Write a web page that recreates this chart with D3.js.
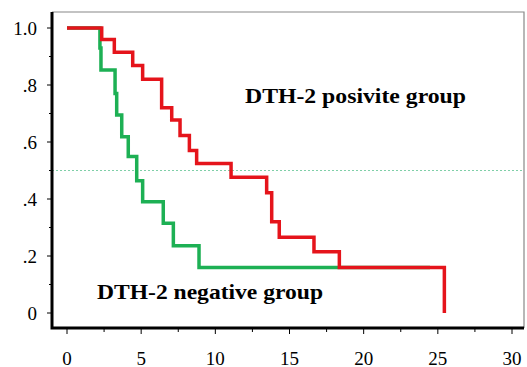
<!DOCTYPE html>
<html>
<head>
<meta charset="utf-8">
<script src="https://cdn.jsdelivr.net/npm/d3@7"></script>
<style>
  body { margin: 0; background: #fff; }
</style>
</head>
<body>
<div id="chart"></div>
<script>
// survival steps: [time, survival after the drop]
const positiveTimes = [0, 2.34, 3.19, 4.43, 5.1, 6.38, 7.06, 7.62, 8.25, 8.74, 11.06, 13.46, 13.8, 14.31, 16.65, 18.36, 25.44];
const positiveValues = [1, 0.96, 0.915, 0.868, 0.82, 0.72, 0.677, 0.623, 0.57, 0.525, 0.476, 0.422, 0.32, 0.266, 0.215, 0.16, 0];
const negativeTimes = [0, 2.22, 2.29, 3.24, 3.35, 3.69, 4.13, 4.7, 5.1, 6.49, 7.17, 8.9];
const negativeValues = [1, 0.93, 0.853, 0.77, 0.695, 0.618, 0.549, 0.464, 0.39, 0.315, 0.236, 0.16];
const negativeEnd = 24.47;
const xTicks = [0, 5, 10, 15, 20, 25, 30];
const yTicks = [0, 0.2, 0.4, 0.6, 0.8, 1.0];
const yTickLabels = ["0", ".2", ".4", ".6", ".8", "1.0"];
const medianLine = 0.5;

const serif = "'Liberation Serif', 'Times New Roman', Times, serif";
const width = 527, height = 367;
const svg = d3.select("#chart").append("svg")
  .attr("width", width).attr("height", height);

const x = d3.scaleLinear().domain([0, 30]).range([67, 512]);
const y = d3.scaleLinear().domain([0, 1]).range([313, 28]);

const frameLeft = 52, frameTop = 12, frameRight = 524, frameBottom = 328;

// thin grey top + right border
svg.append("path")
  .attr("d", `M${frameLeft},${frameTop}H${frameRight}V${frameBottom}`)
  .attr("fill", "none")
  .attr("stroke", "#888")
  .attr("stroke-width", 1.2);

// dotted 50% line
svg.append("line")
  .attr("x1", frameLeft).attr("x2", frameRight)
  .attr("y1", y(medianLine)).attr("y2", y(medianLine))
  .attr("stroke", "#7fcfa8")
  .attr("stroke-width", 1)
  .attr("stroke-dasharray", "2,2");

// x ticks (major + minor)
const xMinor = d3.range(0, 30.01, 2.5);
svg.append("g").selectAll("line").data(xMinor).enter().append("line")
  .attr("x1", d => x(d)).attr("x2", d => x(d))
  .attr("y1", frameBottom)
  .attr("y2", d => frameBottom + (d % 5 === 0 ? 6 : 4))
  .attr("stroke", "#000").attr("stroke-width", 1);
svg.append("g").selectAll("text").data(xTicks).enter().append("text")
  .attr("x", d => x(d)).attr("y", 358)
  .attr("text-anchor", "middle")
  .attr("dominant-baseline", "central")
  .attr("font-family", serif)
  .attr("font-size", 19)
  .text(d => d);

// y ticks
const yMinor = d3.range(0, 1.01, 0.1);
svg.append("g").selectAll("line").data(yMinor).enter().append("line")
  .attr("y1", d => y(d)).attr("y2", d => y(d))
  .attr("x1", frameLeft)
  .attr("x2", (d, i) => frameLeft - (i % 2 === 0 ? 5 : 3))
  .attr("stroke", "#000").attr("stroke-width", 1);
svg.append("g").selectAll("text").data(yTicks).enter().append("text")
  .attr("x", 37).attr("y", d => y(d))
  .attr("text-anchor", "end")
  .attr("dominant-baseline", "central")
  .attr("font-family", serif)
  .attr("font-size", 19)
  .text((d, i) => yTickLabels[i]);

// survival curves
const stepLine = d3.line().x(d => x(d[0])).y(d => y(d[1])).curve(d3.curveStepAfter);

const negPoints = negativeTimes.map((t, i) => [t, negativeValues[i]]);
negPoints.push([negativeEnd, negativeValues[negativeValues.length - 1]]);
svg.append("path")
  .datum(negPoints)
  .attr("d", stepLine)
  .attr("fill", "none")
  .attr("stroke", "#1db054")
  .attr("stroke-width", 3.5);

const posPoints = positiveTimes.map((t, i) => [t, positiveValues[i]]);
svg.append("path")
  .datum(posPoints)
  .attr("d", stepLine)
  .attr("fill", "none")
  .attr("stroke", "#e5141b")
  .attr("stroke-width", 3.5);

// thick left + bottom axis
svg.append("path")
  .attr("d", `M${frameLeft},${frameTop}V${frameBottom}H${frameRight}`)
  .attr("fill", "none")
  .attr("stroke", "#000")
  .attr("stroke-width", 3);

// group labels
svg.append("text")
  .attr("x", 245).attr("y", 103)
  .attr("font-family", serif)
  .attr("font-size", 22).attr("font-weight", "bold")
  .attr("textLength", 221).attr("lengthAdjust", "spacingAndGlyphs")
  .text("DTH-2 posivite group");
svg.append("text")
  .attr("x", 97).attr("y", 299)
  .attr("font-family", serif)
  .attr("font-size", 22).attr("font-weight", "bold")
  .attr("textLength", 226).attr("lengthAdjust", "spacingAndGlyphs")
  .text("DTH-2 negative group");
</script>
</body>
</html>
